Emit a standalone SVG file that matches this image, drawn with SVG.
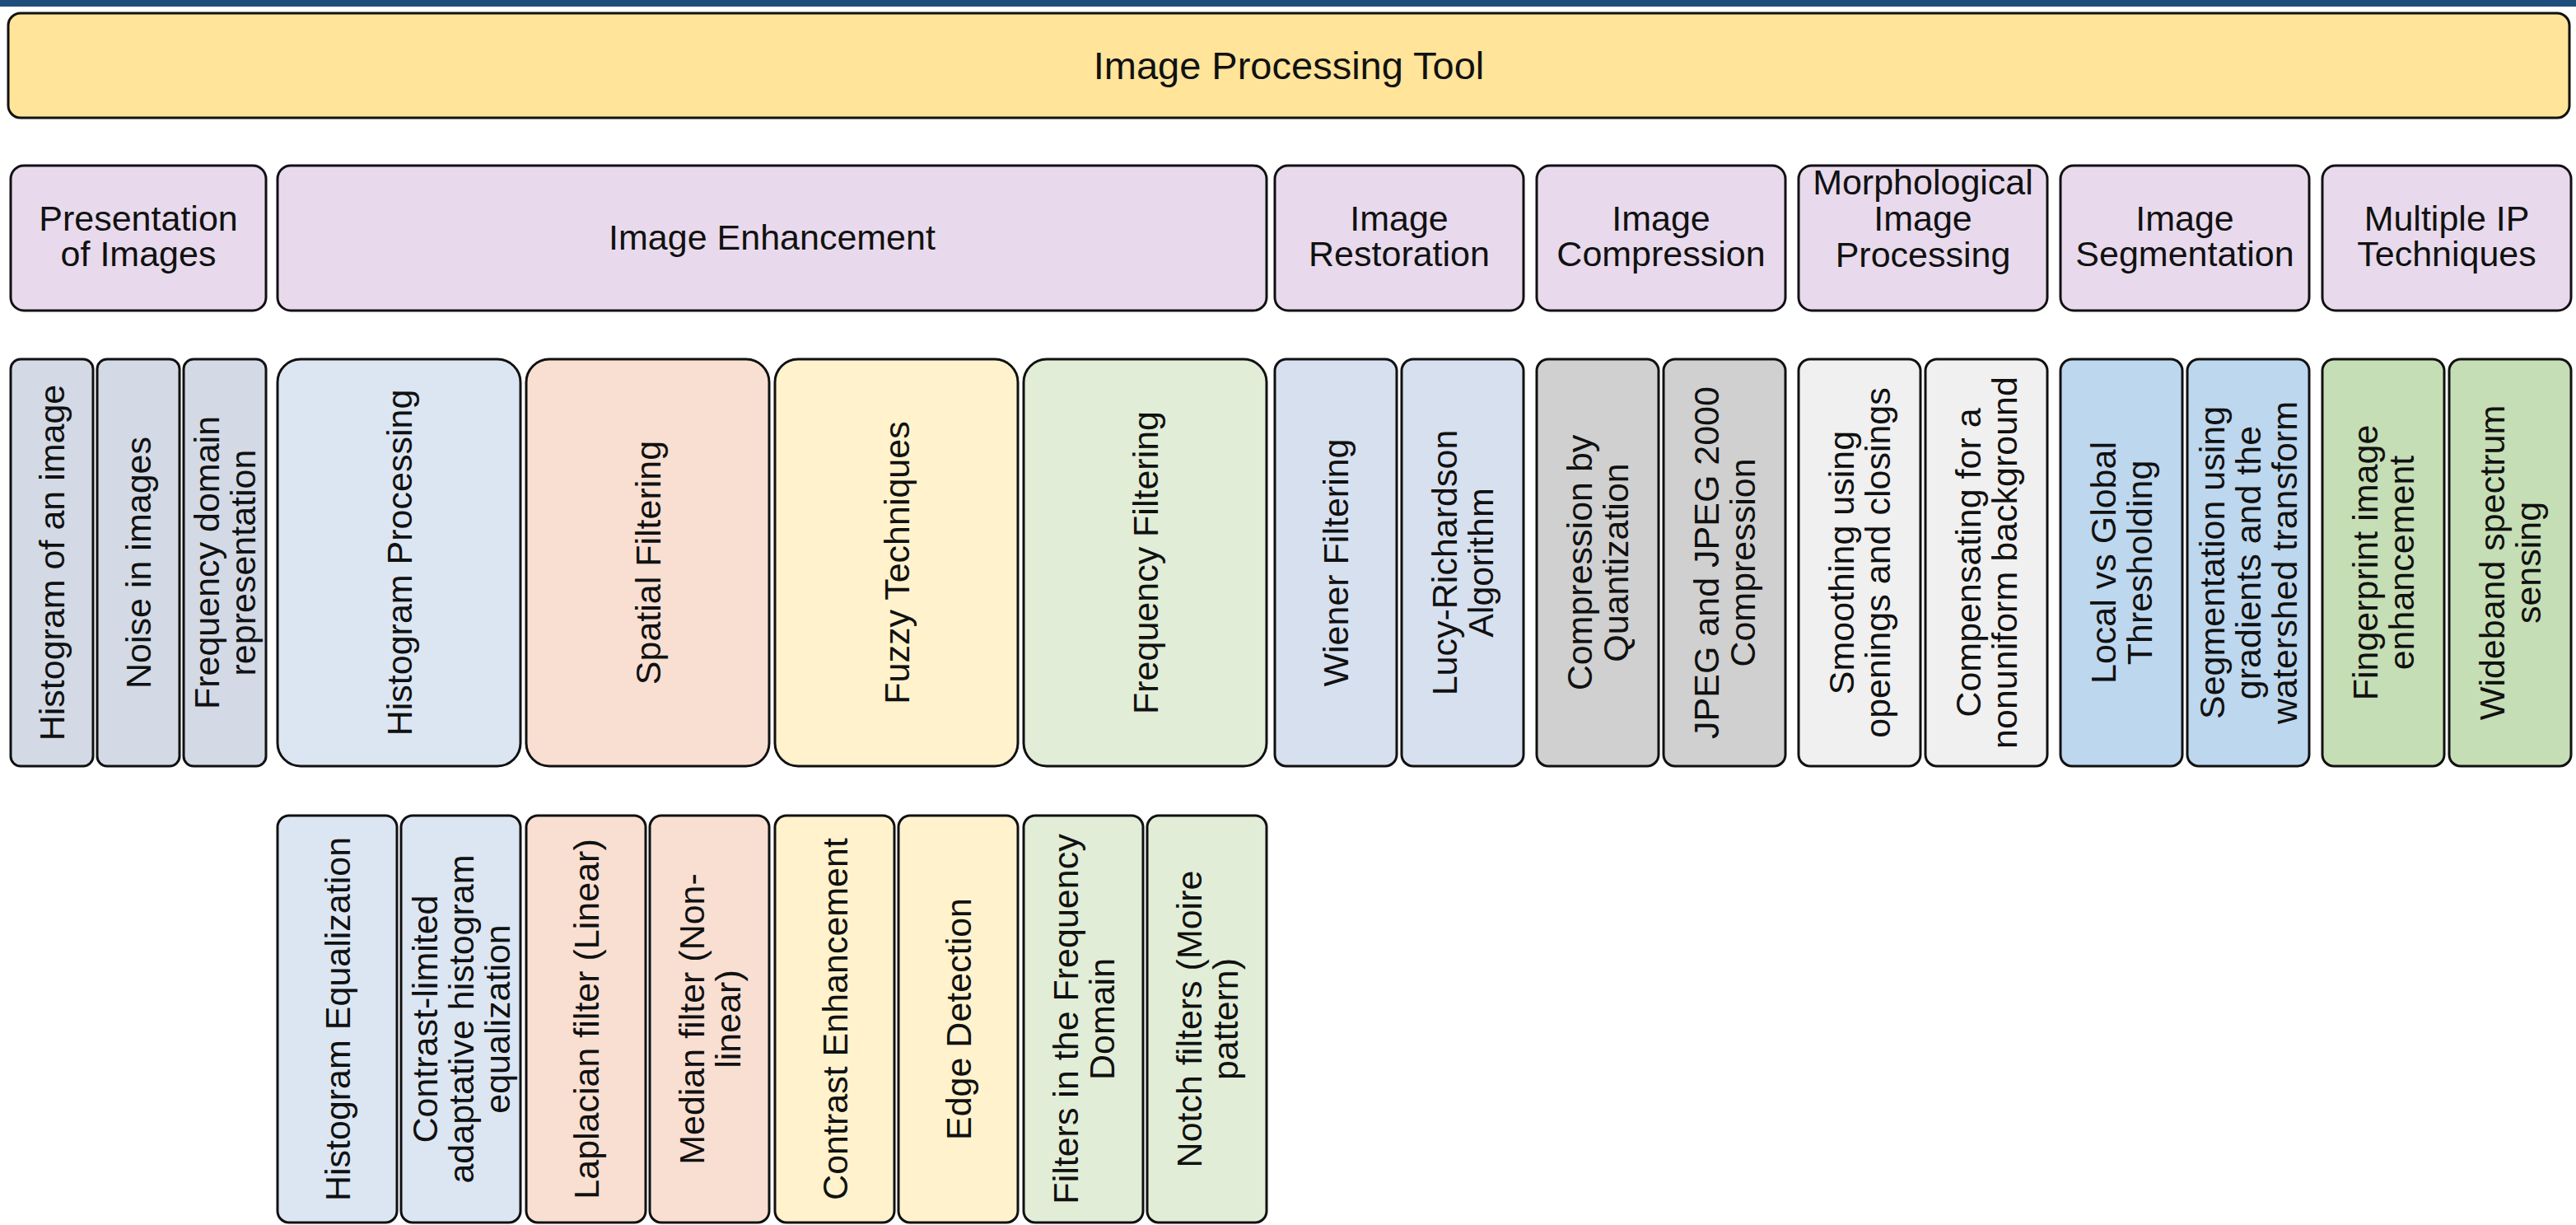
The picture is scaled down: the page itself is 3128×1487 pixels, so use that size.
<svg xmlns="http://www.w3.org/2000/svg" width="3128" height="1487" viewBox="0 0 3128 1487">
<style>
.b{stroke:#111;stroke-width:3}
text{font-family:"Liberation Sans",Arial,Helvetica,sans-serif;font-size:43px;fill:#111;text-anchor:middle}
.tt{font-size:47px}
.title{fill:#FFE499}
.cat{fill:#E8DAEC}
.pres{fill:#D3DAE5}
.hist{fill:#DCE6F2}
.spat{fill:#F8DFD2}
.fuzz{fill:#FFF2CC}
.freq{fill:#E1EDD7}
.rest{fill:#D7E0EF}
.comp{fill:#D0D0D0}
.morph{fill:#F0F0F0}
.seg{fill:#BDD7EE}
.multi{fill:#C6DEB5}
</style>
<rect x="0" y="0" width="3128" height="1487" fill="#FFFFFF"/>
<rect x="0" y="0" width="3128" height="8" fill="#1F4E7D"/>

<g id="image-processing-tool">
<rect class="b title" x="10" y="16" width="3110" height="127" rx="15"/>
<text class="tt" x="1565" y="96">Image Processing Tool</text>
</g>

<!-- Row 2: categories -->
<g id="presentation-of-images">
<rect class="b cat" x="13" y="201" width="310" height="176" rx="16"/>
<text><tspan x="168" y="280">Presentation</tspan><tspan x="168" y="323">of Images</tspan></text>
</g>
<g id="image-enhancement">
<rect class="b cat" x="337" y="201" width="1201" height="176" rx="16"/>
<text x="937.5" y="303">Image Enhancement</text>
</g>
<g id="image-restoration">
<rect class="b cat" x="1548" y="201" width="302" height="176" rx="16"/>
<text><tspan x="1699" y="280">Image</tspan><tspan x="1699" y="323">Restoration</tspan></text>
</g>
<g id="image-compression">
<rect class="b cat" x="1866" y="201" width="302" height="176" rx="16"/>
<text><tspan x="2017" y="280">Image</tspan><tspan x="2017" y="323">Compression</tspan></text>
</g>
<g id="morphological-image-processing">
<rect class="b cat" x="2184" y="201" width="302" height="176" rx="16"/>
<text><tspan x="2335" y="236">Morphological</tspan><tspan x="2335" y="280">Image</tspan><tspan x="2335" y="324">Processing</tspan></text>
</g>
<g id="image-segmentation">
<rect class="b cat" x="2502" y="201" width="302" height="176" rx="16"/>
<text><tspan x="2653" y="280">Image</tspan><tspan x="2653" y="323">Segmentation</tspan></text>
</g>
<g id="multiple-ip-techniques">
<rect class="b cat" x="2820" y="201" width="302" height="176" rx="16"/>
<text><tspan x="2971" y="280">Multiple IP</tspan><tspan x="2971" y="323">Techniques</tspan></text>
</g>

<!-- Row 3 -->
<g id="histogram-of-an-image">
<rect class="b pres" x="13" y="436" width="100" height="494" rx="12"/>
<text transform="translate(63,683) rotate(-90)"><tspan x="0" y="15">Histogram of an image</tspan></text>
</g>
<g id="noise-in-images">
<rect class="b pres" x="118" y="436" width="100" height="494" rx="12"/>
<text transform="translate(168,683) rotate(-90)"><tspan x="0" y="15">Noise in images</tspan></text>
</g>
<g id="frequency-domain-representation">
<rect class="b pres" x="223" y="436" width="100" height="494" rx="12"/>
<text transform="translate(273,683) rotate(-90)"><tspan x="0" y="-7">Frequency domain</tspan><tspan x="0" y="37">representation</tspan></text>
</g>
<g id="histogram-processing">
<rect class="b hist" x="337" y="436" width="295" height="494" rx="28"/>
<text transform="translate(484.5,683) rotate(-90)"><tspan x="0" y="15">Histogram Processing</tspan></text>
</g>
<g id="spatial-filtering">
<rect class="b spat" x="639" y="436" width="295" height="494" rx="28"/>
<text transform="translate(786.5,683) rotate(-90)"><tspan x="0" y="15">Spatial Filtering</tspan></text>
</g>
<g id="fuzzy-techniques">
<rect class="b fuzz" x="941" y="436" width="295" height="494" rx="28"/>
<text transform="translate(1088.5,683) rotate(-90)"><tspan x="0" y="15">Fuzzy Techniques</tspan></text>
</g>
<g id="frequency-filtering">
<rect class="b freq" x="1243" y="436" width="295" height="494" rx="28"/>
<text transform="translate(1390.5,683) rotate(-90)"><tspan x="0" y="15">Frequency Filtering</tspan></text>
</g>
<g id="wiener-filtering">
<rect class="b rest" x="1548" y="436" width="148" height="494" rx="14"/>
<text transform="translate(1622,683) rotate(-90)"><tspan x="0" y="15">Wiener Filtering</tspan></text>
</g>
<g id="lucy-richardson-algorithm">
<rect class="b rest" x="1702" y="436" width="148" height="494" rx="14"/>
<text transform="translate(1776,683) rotate(-90)"><tspan x="0" y="-7">Lucy-Richardson</tspan><tspan x="0" y="37">Algorithm</tspan></text>
</g>
<g id="compression-by-quantization">
<rect class="b comp" x="1866" y="436" width="148" height="494" rx="14"/>
<text transform="translate(1940,683) rotate(-90)"><tspan x="0" y="-7">Compression by</tspan><tspan x="0" y="37">Quantization</tspan></text>
</g>
<g id="jpeg-compression">
<rect class="b comp" x="2020" y="436" width="148" height="494" rx="14"/>
<text transform="translate(2094,683) rotate(-90)"><tspan x="0" y="-7">JPEG and JPEG 2000</tspan><tspan x="0" y="37">Compression</tspan></text>
</g>
<g id="smoothing-openings-closings">
<rect class="b morph" x="2184" y="436" width="148" height="494" rx="14"/>
<text transform="translate(2258,683) rotate(-90)"><tspan x="0" y="-7">Smoothing using</tspan><tspan x="0" y="37">openings and closings</tspan></text>
</g>
<g id="compensating-nonuniform-background">
<rect class="b morph" x="2338" y="436" width="148" height="494" rx="14"/>
<text transform="translate(2412,683) rotate(-90)"><tspan x="0" y="-7">Compensating for a</tspan><tspan x="0" y="37">nonuniform background</tspan></text>
</g>
<g id="local-vs-global-thresholding">
<rect class="b seg" x="2502" y="436" width="148" height="494" rx="14"/>
<text transform="translate(2576,683) rotate(-90)"><tspan x="0" y="-7">Local vs Global</tspan><tspan x="0" y="37">Thresholding</tspan></text>
</g>
<g id="segmentation-watershed">
<rect class="b seg" x="2656" y="436" width="148" height="494" rx="14"/>
<text transform="translate(2730,683) rotate(-90)"><tspan x="0" y="-29">Segmentation using</tspan><tspan x="0" y="15">gradients and the</tspan><tspan x="0" y="59">watershed transform</tspan></text>
</g>
<g id="fingerprint-image-enhancement">
<rect class="b multi" x="2820" y="436" width="148" height="494" rx="14"/>
<text transform="translate(2894,683) rotate(-90)"><tspan x="0" y="-7">Fingerprint image</tspan><tspan x="0" y="37">enhancement</tspan></text>
</g>
<g id="wideband-spectrum-sensing">
<rect class="b multi" x="2974" y="436" width="148" height="494" rx="14"/>
<text transform="translate(3048,683) rotate(-90)"><tspan x="0" y="-7">Wideband spectrum</tspan><tspan x="0" y="37">sensing</tspan></text>
</g>

<!-- Row 4 -->
<g id="histogram-equalization">
<rect class="b hist" x="337" y="990" width="145" height="494" rx="14"/>
<text transform="translate(409.5,1237) rotate(-90)"><tspan x="0" y="15">Histogram Equalization</tspan></text>
</g>
<g id="clahe">
<rect class="b hist" x="487" y="990" width="145" height="494" rx="14"/>
<text transform="translate(559.5,1237) rotate(-90)"><tspan x="0" y="-29">Contrast-limited</tspan><tspan x="0" y="15">adaptative histogram</tspan><tspan x="0" y="59">equalization</tspan></text>
</g>
<g id="laplacian-filter">
<rect class="b spat" x="639" y="990" width="145" height="494" rx="14"/>
<text transform="translate(711.5,1237) rotate(-90)"><tspan x="0" y="15">Laplacian filter (Linear)</tspan></text>
</g>
<g id="median-filter">
<rect class="b spat" x="789" y="990" width="145" height="494" rx="14"/>
<text transform="translate(861.5,1237) rotate(-90)"><tspan x="0" y="-7">Median filter (Non-</tspan><tspan x="0" y="37">linear)</tspan></text>
</g>
<g id="contrast-enhancement">
<rect class="b fuzz" x="941" y="990" width="145" height="494" rx="14"/>
<text transform="translate(1013.5,1237) rotate(-90)"><tspan x="0" y="15">Contrast Enhancement</tspan></text>
</g>
<g id="edge-detection">
<rect class="b fuzz" x="1091" y="990" width="145" height="494" rx="14"/>
<text transform="translate(1163.5,1237) rotate(-90)"><tspan x="0" y="15">Edge Detection</tspan></text>
</g>
<g id="filters-frequency-domain">
<rect class="b freq" x="1243" y="990" width="145" height="494" rx="14"/>
<text transform="translate(1315.5,1237) rotate(-90)"><tspan x="0" y="-7">Filters in the Frequency</tspan><tspan x="0" y="37">Domain</tspan></text>
</g>
<g id="notch-filters">
<rect class="b freq" x="1393" y="990" width="145" height="494" rx="14"/>
<text transform="translate(1465.5,1237) rotate(-90)"><tspan x="0" y="-7">Notch filters (Moire</tspan><tspan x="0" y="37">pattern)</tspan></text>
</g>

<g id="connectors"></g>
</svg>
